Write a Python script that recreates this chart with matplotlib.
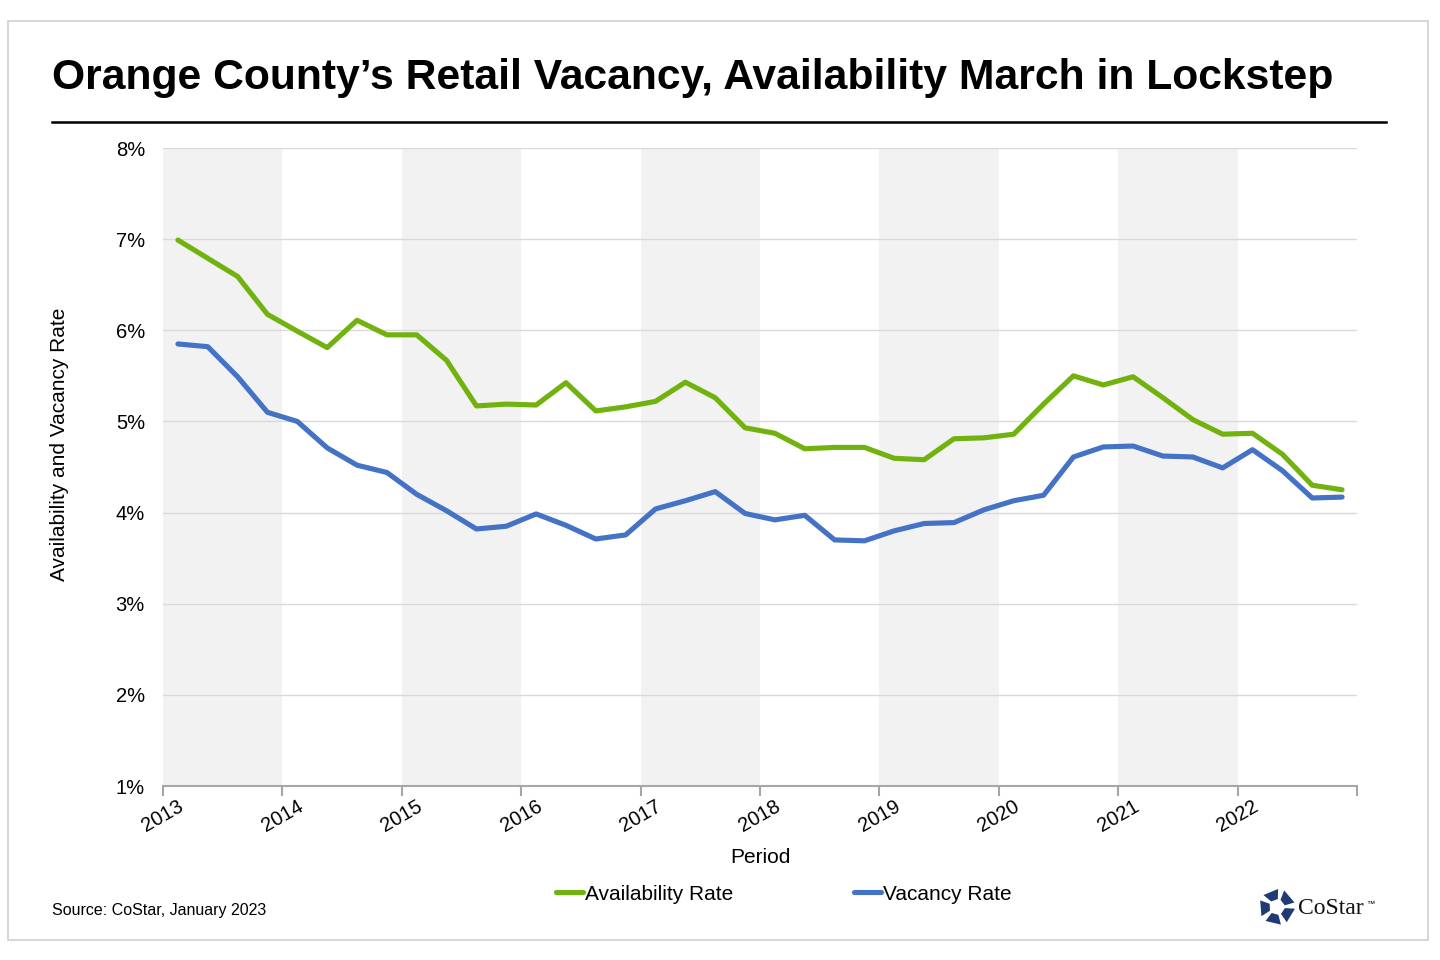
import numpy as np
import matplotlib
matplotlib.use("Agg")
import matplotlib.pyplot as plt
from matplotlib.patches import Rectangle, Polygon
from matplotlib.lines import Line2D

plt.rcParams['font.family'] = ['Liberation Sans', 'DejaVu Sans']

# quarterly points, mid-quarter, 2013 Q1 .. 2022 Q4
quarters = 2013.125 + 0.25 * np.arange(40)

availability = [6.99, 6.79, 6.59, 6.175, 5.99, 5.81, 6.11, 5.95, 5.95, 5.67,
                5.17, 5.19, 5.18, 5.425, 5.115, 5.16, 5.22, 5.43, 5.26, 4.93,
                4.87, 4.70, 4.715, 4.715, 4.595, 4.58, 4.81, 4.82, 4.86, 5.19,
                5.50, 5.40, 5.49, 5.26, 5.02, 4.86, 4.87, 4.64, 4.30, 4.25]
vacancy = [5.85, 5.82, 5.49, 5.10, 5.00, 4.71, 4.52, 4.44, 4.20, 4.02,
           3.82, 3.85, 3.985, 3.86, 3.71, 3.755, 4.04, 4.13, 4.23, 3.99,
           3.92, 3.97, 3.70, 3.69, 3.80, 3.88, 3.89, 4.03, 4.13, 4.19,
           4.61, 4.72, 4.73, 4.62, 4.61, 4.49, 4.69, 4.46, 4.16, 4.17]

years = list(range(2013, 2024))
year_labels = [str(y) for y in range(2013, 2023)] + [""]
y_ticks = [1, 2, 3, 4, 5, 6, 7, 8]

title = "Orange County\u2019s Retail Vacancy, Availability March in Lockstep"
green = "#72b20f"
blue = "#4472c4"

fig = plt.figure(figsize=(14.4, 9.6), dpi=100)
W, H = 1440, 960

# outer frame
fig.patches.append(Rectangle((8 / W, 1 - 940 / H), 1420 / W, 919 / H,
                             transform=fig.transFigure, fill=False,
                             edgecolor="#d0d0d0", lw=1.2))

fig.text(52 / W, 1 - 78 / H, title, fontsize=30.7, fontweight="bold",
         ha="left", va="center")
fig.add_artist(Line2D([52 / W, 1386 / W], [1 - 122 / H, 1 - 122 / H],
                      transform=fig.transFigure, color="black", lw=1.8))

ax = fig.add_axes([163 / W, 1 - 786 / H, 1194 / W, 638 / H])

for y0 in range(2013, 2023, 2):
    ax.axvspan(y0, y0 + 1, color="#f2f2f2", lw=0, zorder=0)

ax.plot(quarters, availability, color=green, lw=3.7, label="Availability Rate",
        solid_joinstyle="round", solid_capstyle="round", zorder=3)
ax.plot(quarters, vacancy, color=blue, lw=3.7, label="Vacancy Rate",
        solid_joinstyle="round", solid_capstyle="round", zorder=3)

ax.set_xlim(2013, 2023)
ax.set_ylim(1, 8)
ax.set_yticks(y_ticks)
ax.set_yticklabels([f"{v}%" for v in y_ticks], fontsize=14.5)
ax.set_xticks(years)
ax.set_xticklabels(year_labels, fontsize=14.5, rotation=30, ha="center")
ax.grid(axis="y", color="#d9d9d9", lw=1, zorder=1)
ax.set_axisbelow(True)
for s in ["left", "right", "top"]:
    ax.spines[s].set_visible(False)
ax.spines["bottom"].set_color("#a6a6a6")
ax.spines["bottom"].set_linewidth(1.5)
ax.tick_params(axis="y", length=0, pad=13)
ax.tick_params(axis="x", length=7, width=1.5, color="#a6a6a6", pad=1)

ax.set_xlabel("Period", fontsize=15)
ax.xaxis.set_label_coords(0.5, -0.097)
ax.set_ylabel("Availability and Vacancy Rate", fontsize=15)
ax.yaxis.set_label_coords(-0.079, 0.536)

fig.legend(loc="center", bbox_to_anchor=(784 / W, 1 - 894 / H), ncol=2,
           frameon=False, fontsize=15, handlelength=1.3, handletextpad=0.1,
           columnspacing=5.8)

fig.text(52 / W, 1 - 911 / H, "Source: CoStar, January 2023", fontsize=11.5,
         ha="left", va="center")

# CoStar logo mark
lax = fig.add_axes([1258 / W, 1 - 926 / H, 38 / W, 38 / H])
lax.set_xlim(-1, 1)
lax.set_ylim(-1, 1)
lax.axis("off")
for k in range(5):
    a = np.deg2rad(90 + 72 * k + 20)
    da = np.deg2rad(26)
    pts = [(0.42 * np.cos(a - da), 0.42 * np.sin(a - da)),
           (0.95 * np.cos(a - da * 0.9), 0.95 * np.sin(a - da * 0.9)),
           (0.95 * np.cos(a + da * 1.1), 0.95 * np.sin(a + da * 1.1)),
           (0.42 * np.cos(a + da), 0.42 * np.sin(a + da))]
    lax.add_patch(Polygon(pts, closed=True, color="#1f3a75", lw=0))
fig.text(1298 / W, 1 - 908 / H, "CoStar", fontsize=17, family="Liberation Serif",
         ha="left", va="center", color="#111111")
fig.text(1366 / W, 1 - 904 / H, "\u2122", fontsize=6, ha="left", va="center")

fig.savefig("out.png", dpi=100)
